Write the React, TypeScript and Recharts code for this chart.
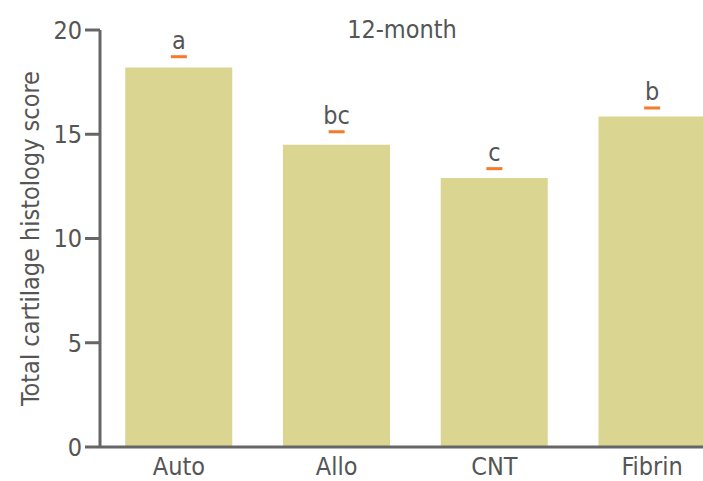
import { ComposedChart, Bar, Scatter, XAxis, YAxis } from 'recharts';

const groups = ['Auto', 'Allo', 'CNT', 'Fibrin'];
const scores = [18.2, 14.5, 12.9, 15.85];
const upperError = [18.72, 15.12, 13.35, 16.26];
const letters = ['a', 'bc', 'c', 'b'];
const yTicks = [0, 5, 10, 15, 20];

const FONT = "'DejaVu Sans Condensed', 'Liberation Sans Narrow', 'DejaVu Sans', sans-serif";
const TEXT = '#555555';
const AXIS = '#666666';
const BAR = '#dad591';
const ORANGE = '#f47b2a';

const data = groups.map((g, i) => ({
  group: g,
  score: scores[i],
  err: upperError[i],
  letter: letters[i],
}));

const txt = { fill: TEXT, fontSize: 25, fontFamily: FONT, fontStretch: 'condensed' as const };

// short orange cap + significance letter above each bar
const CapMark = (props: any) => {
  const { cx, cy, payload } = props;
  if (cx == null || cy == null) return null;
  return (
    <g>
      <rect x={cx - 8} y={cy - 1.5} width={16} height={3} fill={ORANGE} />
      <text x={cx} y={cy - 8} textAnchor="middle" style={txt} fontSize={27}>
        {payload.letter}
      </text>
    </g>
  );
};

export default function App() {
  return (
    <div
      style={{
        position: 'absolute',
        left: 0,
        top: 0,
        width: 703,
        height: 481,
        overflow: 'hidden',
        background: '#fff',
      }}
    >
      <ComposedChart
        width={731}
        height={481}
        data={data}
        margin={{ top: 30, right: 0, bottom: 0, left: 0 }}
        barCategoryGap="16%"
      >
        <XAxis
          dataKey="group"
          tickLine={false}
          axisLine={{ stroke: AXIS, strokeWidth: 3 }}
          height={34}
          tick={txt}
          tickMargin={4}
        />
        <YAxis
          domain={[0, 20]}
          ticks={yTicks}
          width={100}
          tickSize={15}
          tickMargin={3}
          axisLine={{ stroke: AXIS, strokeWidth: 3 }}
          tickLine={{ stroke: AXIS, strokeWidth: 3 }}
          tick={txt}
          label={{
            value: 'Total cartilage histology score',
            angle: -90,
            position: 'insideLeft',
            offset: 30,
            style: { ...txt, textAnchor: 'middle', fontSize: 25 },
          }}
        />
        <Bar dataKey="score" fill={BAR} isAnimationActive={false} />
        <Scatter dataKey="err" shape={<CapMark />} isAnimationActive={false} />
      </ComposedChart>
      <div
        style={{
          position: 'absolute',
          left: 342,
          top: 15,
          width: 120,
          textAlign: 'center',
          whiteSpace: 'nowrap',
          fontFamily: FONT,
          fontStretch: 'condensed',
          fontSize: 25,
          color: TEXT,
        }}
      >
        12-month
      </div>
    </div>
  );
}
